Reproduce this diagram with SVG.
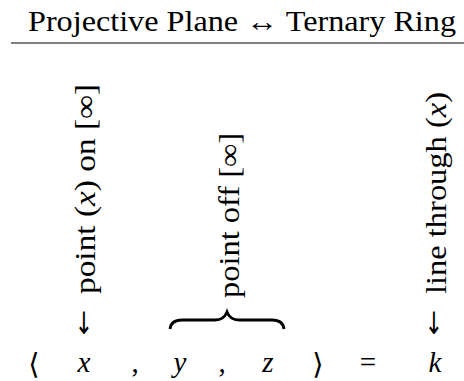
<svg xmlns="http://www.w3.org/2000/svg" width="464" height="381" viewBox="0 0 464 381">
<style>
text{font-family:'Liberation Serif','Times New Roman','DejaVu Serif',serif;fill:#000;font-size:29px}
.m{font-style:italic}
.c{text-anchor:middle}
.a{font-family:'DejaVu Sans','DejaVu Serif',sans-serif;font-size:22px}
</style>
<rect width="464" height="381" fill="#fff"/>
<g id="title">
<text x="28" y="31" textLength="428" lengthAdjust="spacingAndGlyphs">Projective Plane ↔ Ternary Ring</text>
<line x1="11" y1="43" x2="464" y2="43" stroke="#555" stroke-width="1.5"/>
</g>
<g id="label-point-on">
<text class="c a" transform="translate(84,334) scale(1,1.4)">↓</text>
<text transform="translate(95,294) rotate(-90)" textLength="210" lengthAdjust="spacingAndGlyphs">point (<tspan class="m">x</tspan>) on [∞]</text>
</g>
<g id="label-point-off">
<text transform="translate(239,298) rotate(-90)" textLength="165" lengthAdjust="spacingAndGlyphs">point off [∞]</text>
<path d="M170,329 Q171,320 182,320 L215,320 Q224,320 227,312 Q230,320 239,320 L272,320 Q283,320 284,329" fill="none" stroke="#000" stroke-width="2.8"/>
</g>
<g id="label-line-through">
<text class="c a" transform="translate(434,334) scale(1,1.4)">↓</text>
<text transform="translate(446,294) rotate(-90)" textLength="202" lengthAdjust="spacingAndGlyphs">line through (<tspan class="m">x</tspan>)</text>
</g>
<g id="equation">
<text class="c" x="34" y="374">⟨</text>
<text class="c m" x="84" y="372">x</text>
<text class="c" x="135" y="372">,</text>
<text class="c m" x="180" y="372">y</text>
<text class="c" x="222" y="372">,</text>
<text class="c m" x="268" y="372">z</text>
<text class="c" x="318" y="374">⟩</text>
<text class="c" x="368" y="372">=</text>
<text class="c m" x="435" y="372">k</text>
</g>
</svg>
